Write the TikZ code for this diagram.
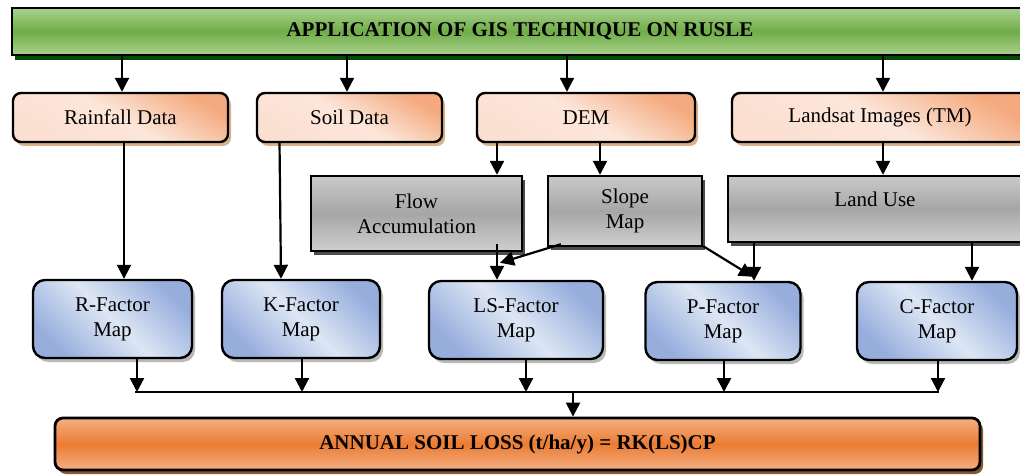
\documentclass[tikz,border=0pt]{standalone}
\usepackage{fontspec}
\setmainfont{Liberation Serif}
\usetikzlibrary{arrows.meta, shadows, calc}

\definecolor{titlegreen}{HTML}{70AD47}
\definecolor{titlelight}{HTML}{A9D18E}
\definecolor{dataorange}{HTML}{F4AA7E}
\definecolor{datalight}{HTML}{FCE6DA}
\definecolor{factorblue}{HTML}{97AEDD}
\definecolor{factorlight}{HTML}{DDE6F4}
\definecolor{resultorange}{HTML}{EB7C33}
\definecolor{resultlight}{HTML}{F5AF83}

\begin{document}
\begin{tikzpicture}[
    x=1pt, y=-1pt,
    font=\fontsize{21}{25}\selectfont,
    title/.style = {rectangle, draw=black, line width=2.8pt, minimum width=1016pt, minimum height=47pt,
                    top color=titlelight, bottom color=titlelight, middle color=titlegreen,
                    font=\fontsize{21}{25}\selectfont\bfseries,
                    drop shadow={shadow xshift=3pt, shadow yshift=-5pt, fill=green!30!black, opacity=1}},
    data/.style = {rectangle, rounded corners=8pt, draw=black, line width=2.4pt, minimum height=49pt,
                   left color=dataorange, right color=datalight!90!dataorange, middle color=datalight,
                   shading angle=-30,
                   drop shadow={shadow xshift=3pt, shadow yshift=-4pt, fill=brown!60!white, opacity=1}},
    grid/.style = {rectangle, draw=black, line width=2.4pt, align=center,
                   top color=gray!42, bottom color=gray!38, middle color=gray!70,
                   drop shadow={shadow xshift=3pt, shadow yshift=-4pt, fill=gray!60!black, opacity=1}},
    factor/.style = {rectangle, rounded corners=12pt, draw=black, line width=2.4pt, align=center,
                     minimum height=78pt,
                     left color=factorblue, right color=factorblue, middle color=factorlight,
                     shading angle=-45,
                     drop shadow={shadow xshift=3pt, shadow yshift=-4pt, fill=gray!55, opacity=1}},
    result/.style = {rectangle, rounded corners=8pt, draw=black, line width=2.8pt, minimum width=925pt,
                     minimum height=52pt,
                     top color=resultlight, bottom color=resultlight, middle color=resultorange,
                     font=\fontsize{21}{25}\selectfont\bfseries,
                     drop shadow={shadow xshift=3pt, shadow yshift=-4pt, fill=brown!70!black, opacity=1}},
    arrow/.style = {-{Triangle[length=14pt, width=14pt]}, line width=2.2pt},
    bus/.style = {line width=2.2pt}
]
\useasboundingbox (0,0) rectangle (1020,476);

% Title
\node (title) [title] at (520,31.5) {APPLICATION OF GIS TECHNIQUE ON RUSLE};

% Input data
\node (rain) [data, minimum width=215pt] at (120.5,117.5) {Rainfall Data};
\node (soil) [data, minimum width=185pt] at (349.5,117.5) {Soil Data};
\node (dem) [data, minimum width=218pt] at (586,117.5) {DEM};
\node (landsat) [data, minimum width=296pt] at (880,117.5) {Landsat Images (TM)};

% Derived layers
\node (flow) [grid, minimum width=211pt, minimum height=75pt] at (416.5,213.5) {Flow \\ Accumulation};
\node (slope) [grid, minimum width=154pt, minimum height=70pt] at (625,211) {Slope \\ Map};
\node (landuse) [grid, minimum width=294pt, minimum height=66pt, text depth=20pt] at (875,209) {Land Use};

% Factor maps
\node (rfac) [factor, minimum width=159pt] at (112.5,319) {R-Factor \\ Map};
\node (kfac) [factor, minimum width=158pt] at (301,319) {K-Factor \\ Map};
\node (lsfac) [factor, minimum width=174pt] at (516,320) {LS-Factor \\ Map};
\node (pfac) [factor, minimum width=155pt] at (723,321) {P-Factor \\ Map};
\node (cfac) [factor, minimum width=160pt] at (937,321) {C-Factor \\ Map};

% Result
\node (loss) [result] at (517.5,444) {ANNUAL SOIL LOSS (t/ha/y) = RK(LS)CP};

% Connector points
\coordinate (rainIn) at ($(rain.north)+(1.5,0)$);
\coordinate (soilIn) at ($(soil.north)+(-2.5,0)$);
\coordinate (demIn) at ($(dem.north)+(-19,0)$);
\coordinate (landsatIn) at ($(landsat.north)+(3,0)$);
\coordinate (rainOut) at ($(rain.south)+(3.5,-2)$);
\coordinate (soilOut) at ($(soil.south)+(-70,-2)$);
\coordinate (flowIn) at ($(flow.north)+(80.5,0)$);
\coordinate (slopeIn) at ($(slope.north)+(-25,0)$);
\coordinate (landuseIn) at ($(landuse.north)+(8,0)$);
\coordinate (flowOut) at ($(flow.south)+(80.5,-8)$);
\coordinate (slopeOutL) at ($(slope.south west)+(14,-3)$);
\coordinate (slopeOutR) at ($(slope.south east)+(0,-1)$);
\coordinate (lsTip) at ($(lsfac.north)+(-16,-17)$);
\coordinate (pIn) at ($(pfac.north)+(31,0)$);
\coordinate (pTip) at ($(pfac.north)+(30,-4)$);
\coordinate (cIn) at ($(cfac.north)+(35,0)$);
\coordinate (rOut) at ($(rfac.south)+(24.5,-1)$);
\coordinate (kOut) at ($(kfac.south)+(1,-1)$);
\coordinate (lsOut) at ($(lsfac.south)+(10,-1)$);
\coordinate (pOut) at ($(pfac.south)+(1,-1)$);
\coordinate (cOut) at ($(cfac.south)+(1,-1)$);
\coordinate (busL) at (135,392);
\coordinate (busR) at (939,392);
\coordinate (busM) at (573,392);

% Arrows - title to data
\draw [arrow] (rainIn |- title.south) -- (rainIn);
\draw [arrow] (soilIn |- title.south) -- (soilIn);
\draw [arrow] (demIn |- title.south) -- (demIn);
\draw [arrow] (landsatIn |- title.south) -- (landsatIn);

% Arrows - data to layers and factors
\draw [arrow] (rainOut) -- (rainOut |- rfac.north);
\draw [arrow] (soilOut) -- ($(soilOut |- kfac.north)+(1.5,0)$);
\draw [arrow] (flowIn |- dem.south) -- (flowIn);
\draw [arrow] (slopeIn |- dem.south) -- (slopeIn);
\draw [arrow] (landuseIn |- landsat.south) -- (landuseIn);

% Arrows - layers to factors
\draw [arrow] (flowOut) -- (flowOut |- lsfac.north);
\draw [arrow] (slopeOutL) -- (lsTip);
\draw [arrow] (slopeOutR) -- (pTip);
\draw [arrow] (pIn |- landuse.south) -- (pIn);
\draw [arrow] (cIn |- landuse.south) -- (cIn);

% Arrows - factors to bus
\draw [arrow] (rOut) -- (rOut |- busL);
\draw [arrow] (kOut) -- (kOut |- busL);
\draw [arrow] (lsOut) -- (lsOut |- busL);
\draw [arrow] (pOut) -- (pOut |- busL);
\draw [arrow] (cOut) -- (cOut |- busL);
\draw [bus] (busL) -- (busR);
\draw [arrow] (busM) -- (busM |- loss.north);

\end{tikzpicture}
\end{document}
